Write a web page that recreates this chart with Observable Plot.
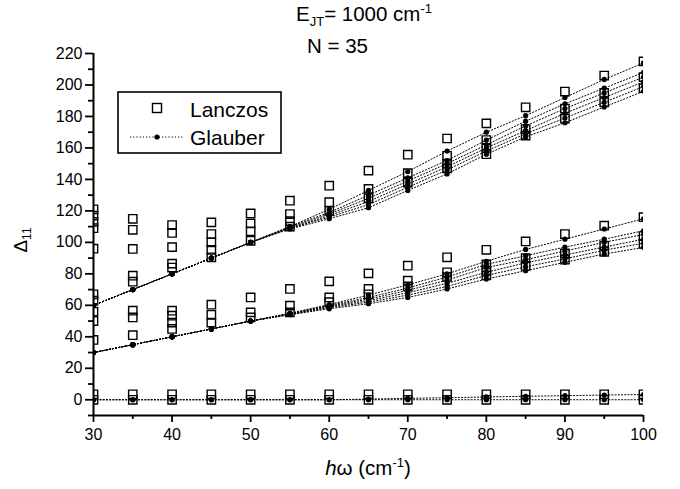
<!DOCTYPE html>
<html>
<head>
<meta charset="utf-8">
<script src="https://cdn.jsdelivr.net/npm/d3@7"></script>
<script src="https://cdn.jsdelivr.net/npm/@observablehq/plot@0.6"></script>
<style>
  html, body { margin: 0; padding: 0; background: white; }
  #wrap { position: relative; width: 680px; height: 489px; font-family: "Liberation Sans", Arial, sans-serif; }
  #wrap svg.overlay { position: absolute; left: 0; top: 0; pointer-events: none; }
</style>
</head>
<body>
<div id="wrap"></div>
<script>
// x positions (hω, cm^-1)
const omega = [30, 35, 40, 45, 50, 55, 60, 65, 70, 75, 80, 85, 90, 95, 100];

// Glauber series (dotted lines with dots), one value per omega
const glauberU1 = [60, 70, 80, 90, 100, 110, 121, 133, 145, 158, 170, 180.5, 192, 203.5, 214];
const glauberU2 = [60, 70, 80, 90, 100, 110, 119, 130, 141, 152, 165, 177, 188, 198, 208];
const glauberU3 = [60, 70, 80, 90, 100, 109.5, 118, 128, 139, 150, 162, 174, 185, 195, 205];
const glauberU4 = [60, 70, 80, 90, 100, 109, 117, 126, 137, 148, 160, 171, 182, 192, 202];
const glauberU5 = [60, 70, 80, 90, 100, 109, 116, 124, 135, 146, 158, 169, 179, 189, 199];
const glauberU6 = [60, 70, 80, 90, 100, 108.5, 115, 122, 133, 143.5, 156, 167, 176, 186, 196];
const glauberM1 = [30, 35, 40, 45, 50, 55, 60.5, 66.5, 73, 80, 88, 95.5, 102, 108.5, 115];
const glauberM2 = [30, 35, 40, 45, 50, 54.8, 60, 65, 71, 78, 86, 91.5, 97, 102, 107.4];
const glauberM3 = [30, 35, 40, 45, 50, 54.6, 59.5, 64, 69.5, 76, 84, 89, 94.5, 100, 105];
const glauberM4 = [30, 35, 40, 45, 50, 54.4, 59, 63, 68, 74, 81, 87, 92, 97, 102];
const glauberM5 = [30, 35, 40, 45, 50, 54.2, 58.5, 62, 66.5, 72, 79, 84.5, 89.5, 95, 99.5];
const glauberM6 = [30, 35, 40, 45, 50, 54, 57.8, 61, 65, 70.4, 76.7, 82, 87.3, 92.6, 96.8];
const glauberB1 = [0, 0, 0, 0, 0, 0, 0, 0, 0, 0, 0, 0, 0, 0, 0];
const glauberB2 = [0, 0, 0, 0, 0, 0, 0, 0.4, 0.9, 1.3, 1.8, 2.2, 2.6, 3, 3.3];

// Lanczos values (open squares), per omega
const lanczos30 = [121, 117, 113, 109, 96, 67, 63, 56, 50, 38, 3.5, 0];
const lanczos35 = [115, 108, 95.8, 78.8, 75, 56.6, 52.3, 41, 3.5, 0];
const lanczos40 = [111, 106, 97, 86.5, 84, 56.6, 53.4, 49, 45, 3.5, 0];
const lanczos45 = [112.7, 105.3, 100, 95.2, 90.5, 60.4, 54, 49, 3.5, 0];
const lanczos50 = [118.4, 112, 107, 101, 65, 55.5, 52.3, 3.5, 0];
const lanczos55 = [126.5, 118, 113.5, 110, 70.4, 59.8, 55.5, 3.5, 0];
const lanczos60 = [136, 125.5, 120, 75.2, 65, 62, 3.5, 0];
const lanczos65 = [145.6, 134, 128, 80.3, 70.4, 67, 3.5, 0];
const lanczos70 = [155.7, 144, 138, 85.2, 75.7, 72, 3.5, 0];
const lanczos75 = [166, 155, 150, 147, 90.5, 81, 78, 3.5, 0];
const lanczos80 = [175.6, 165, 160, 156, 95.3, 86, 82, 79, 3.5, 0];
const lanczos85 = [185.8, 172, 167.8, 100.6, 90, 85, 3.5, 0];
const lanczos90 = [195.8, 185, 178.6, 105.3, 93, 89, 3.5, 0];
const lanczos95 = [206, 195, 189, 110.6, 98, 94, 3.5, 0];
const lanczos100 = [215, 205, 198, 116, 104, 99, 3.5, 0];

// Tick values
const xTicks = [30, 40, 50, 60, 70, 80, 90, 100];
const xMinorTicks = [35, 45, 55, 65, 75, 85, 95];
const yTicks = [0, 20, 40, 60, 80, 100, 120, 140, 160, 180, 200, 220];
const yMinorTicks = [-10, 10, 30, 50, 70, 90, 110, 130, 150, 170, 190, 210];

// Build tables
const glauberSeries = {U1: glauberU1, U2: glauberU2, U3: glauberU3, U4: glauberU4, U5: glauberU5, U6: glauberU6,
  M1: glauberM1, M2: glauberM2, M3: glauberM3, M4: glauberM4, M5: glauberM5, M6: glauberM6, B1: glauberB1, B2: glauberB2};
const glauberRows = [];
for (const [name, vals] of Object.entries(glauberSeries)) {
  vals.forEach((v, i) => glauberRows.push({series: name, x: omega[i], y: v}));
}
const lanczosLists = [lanczos30, lanczos35, lanczos40, lanczos45, lanczos50, lanczos55, lanczos60, lanczos65,
  lanczos70, lanczos75, lanczos80, lanczos85, lanczos90, lanczos95, lanczos100];
const lanczosRows = [];
lanczosLists.forEach((list, i) => list.forEach(v => lanczosRows.push({x: omega[i], y: v})));

const chart = Plot.plot({
  width: 680,
  height: 489,
  marginLeft: 93,
  marginRight: 37,
  marginTop: 53,
  marginBottom: 74,
  x: {domain: [30, 100]},
  y: {domain: [-10, 220]},
  style: {fontFamily: '"Liberation Sans", Arial, sans-serif', fontSize: "16px", background: "white", color: "black", overflow: "visible"},
  marks: [
    Plot.dot(lanczosRows, {x: "x", y: "y", symbol: "square", r: 4.7, stroke: "black", strokeWidth: 1.4, fill: "none", clip: true}),
    Plot.line(glauberRows, {x: "x", y: "y", z: "series", stroke: "black", strokeWidth: 1, strokeDasharray: "1.2,2", clip: true}),
    Plot.dot(glauberRows, {x: "x", y: "y", r: 2.6, fill: "black", stroke: "none", clip: true}),
    Plot.axisY({ticks: yTicks, tickSize: 8, tickPadding: 3, fontSize: 16, label: null, strokeWidth: 1.8}),
    Plot.axisY({ticks: yMinorTicks, tickSize: 5, text: null, label: null, strokeWidth: 1.8}),
    Plot.axisX({ticks: xTicks, tickSize: 7, tickPadding: 6, fontSize: 16, label: null, strokeWidth: 1.8}),
    Plot.axisX({ticks: xMinorTicks, tickSize: 4, text: null, label: null, strokeWidth: 1.8}),
    Plot.ruleX([30], {stroke: "black", strokeWidth: 2}),
    Plot.ruleY([-10], {stroke: "black", strokeWidth: 2})
  ]
});

const wrap = document.getElementById("wrap");
wrap.appendChild(chart);

// Overlay: titles, axis labels and legend (text with sub/superscripts)
const ns = "http://www.w3.org/2000/svg";
const ov = document.createElementNS(ns, "svg");
ov.setAttribute("class", "overlay");
ov.setAttribute("width", 680);
ov.setAttribute("height", 489);
ov.setAttribute("font-family", '"Liberation Sans", Arial, sans-serif');
ov.innerHTML = `
  <text x="296" y="21" font-size="20.5">E<tspan font-size="13" dy="5">JT</tspan><tspan dy="-5">= 1000 cm</tspan><tspan font-size="13" dy="-8">-1</tspan></text>
  <text x="307" y="53" font-size="20.5">N = 35</text>
  <text x="368" y="475" text-anchor="middle" font-size="20.5"><tspan font-style="italic">h</tspan>ω (cm<tspan font-size="13" dy="-8">-1</tspan><tspan dy="8">)</tspan></text>
  <text transform="translate(27,240) rotate(-90)" text-anchor="middle" font-size="19">Δ<tspan font-size="12" dy="4">11</tspan></text>
  <rect x="118" y="92" width="163" height="61" fill="white" stroke="black" stroke-width="1.6"></rect>
  <rect x="152.5" y="103.5" width="9" height="9" fill="none" stroke="black" stroke-width="1.4"></rect>
  <text x="190" y="117" font-size="21">Lanczos</text>
  <line x1="130" y1="137" x2="183" y2="137" stroke="black" stroke-width="1" stroke-dasharray="1.2,2"></line>
  <circle cx="157" cy="137" r="2.6" fill="black"></circle>
  <text x="190" y="145" font-size="21">Glauber</text>
`;
wrap.appendChild(ov);
</script>
</body>
</html>
